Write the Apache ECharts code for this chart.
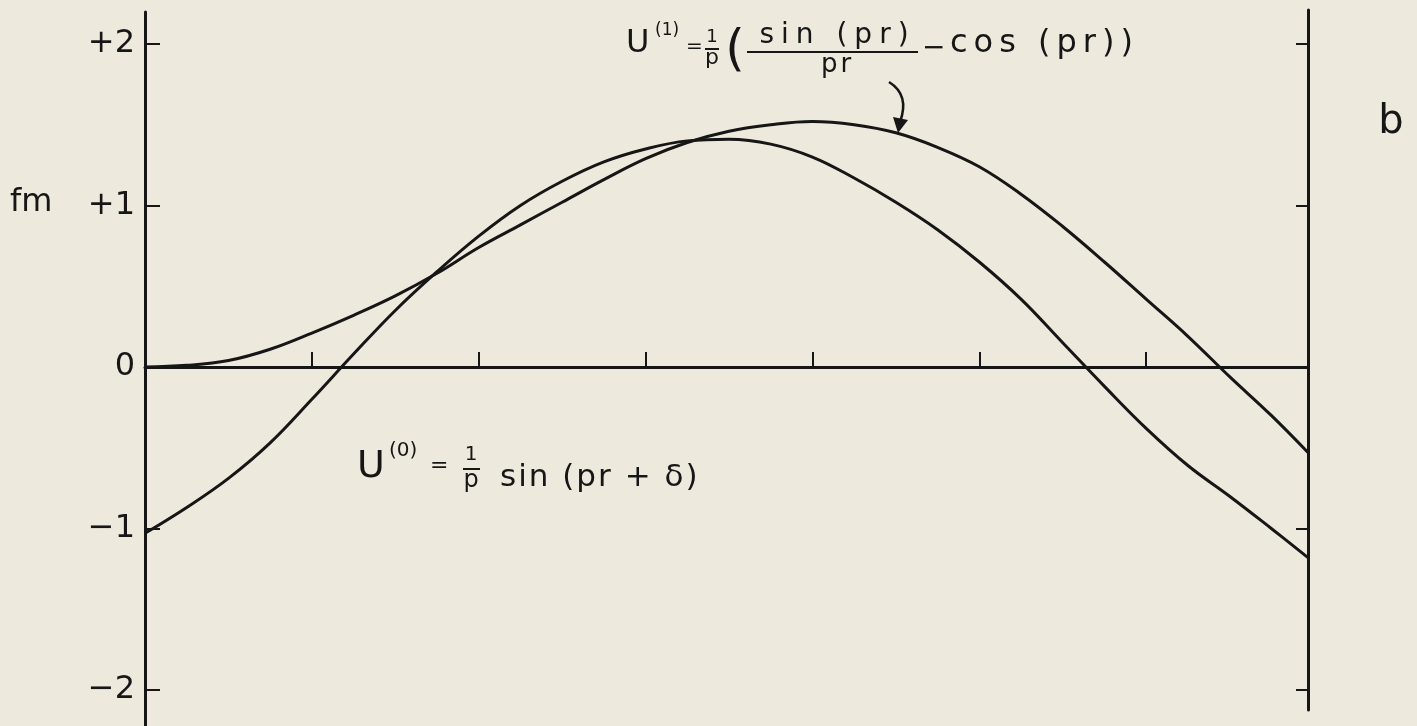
<!DOCTYPE html>
<html>
<head>
<meta charset="utf-8">
<script src="https://cdn.jsdelivr.net/npm/echarts@6/dist/echarts.min.js"></script>
<style>
  html, body { margin: 0; padding: 0; background: #eee9dd; }
  #chart { width: 1417px; height: 726px; }
</style>
</head>
<body>
<div id="chart"></div>
<script>
// Radial coordinate samples (pr units along the horizontal axis)
const rSamples = [0, 0.25, 0.5, 0.75, 1.0, 1.25, 1.5, 1.75, 2.0, 2.25, 2.5, 2.75, 3.0, 3.25, 3.5, 3.75,
                  4.0, 4.25, 4.5, 4.75, 5.0, 5.25, 5.5, 5.75, 6.0, 6.25, 6.5, 6.75, 6.97];
// U(0) = (1/p) sin(pr + δ)
const u0Val = [-1.03, -0.87, -0.69, -0.47, -0.20, 0.08, 0.35, 0.59, 0.81, 1.00, 1.15, 1.27, 1.35, 1.40, 1.41, 1.38,
               1.30, 1.17, 1.02, 0.85, 0.65, 0.42, 0.15, -0.12, -0.38, -0.61, -0.80, -1.00, -1.18];
// U(1) = (1/p)(sin(pr)/pr - cos(pr))
const u1Val = [0, 0.01, 0.04, 0.11, 0.21, 0.32, 0.44, 0.58, 0.74, 0.88, 1.02, 1.16, 1.29, 1.39, 1.46, 1.50,
               1.52, 1.50, 1.45, 1.36, 1.24, 1.07, 0.87, 0.65, 0.42, 0.19, -0.06, -0.30, -0.53];

// Vertical axis ticks and their labels
const yTickValues = [-2, -1, 0, 1, 2];
const yTickLabels = ['−2', '−1', '0', '+1', '+2'];
const sideTickValues = [-2, -1, 1, 2];

const INK = '#161616';
const FONT = 'DejaVu Sans';

const pairs = (xs, ys) => xs.map((x, i) => [x, ys[i]]);

const chart = echarts.init(document.getElementById('chart'), null, { renderer: 'canvas' });

function txt(text, x, y, size, align, vAlign) {
  return {
    type: 'text', x: x, y: y, z: 10,
    style: {
      text: text, fill: INK, fontSize: size, fontFamily: FONT,
      align: align || 'left', verticalAlign: vAlign || 'middle'
    }
  };
}
function seg(x1, y1, x2, y2, w) {
  return {
    type: 'line', z: 10,
    shape: { x1: x1, y1: y1, x2: x2, y2: y2 },
    style: { stroke: INK, lineWidth: w || 2 }
  };
}

// Hand-lettered labels are widely spaced: lay the glyphs out one by one with extra tracking.
const measureCtx = document.createElement('canvas').getContext('2d');
function tracked(str, x, y, size, gap, align) {
  measureCtx.font = size + 'px "' + FONT + '"';
  const chars = Array.from(str);
  const adv = chars.map((c, i) => {
    if (c === ' ') return measureCtx.measureText(' ').width + gap * 2;
    return measureCtx.measureText(c).width + (i < chars.length - 1 && chars[i + 1] !== ' ' ? gap : 0);
  });
  const total = adv.reduce((a, b) => a + b, 0);
  let cx = align === 'center' ? x - total / 2 : x;
  const out = [];
  chars.forEach((c, i) => {
    if (c !== ' ') out.push(txt(c, cx, y, size));
    cx += adv[i];
  });
  return out;
}

chart.setOption({
  animation: false,
  backgroundColor: '#eee9dd',
  grid: [
    { left: 145, right: 109, top: 12, bottom: 0 },
    { left: 145, right: 109, top: 10, bottom: 16 }
  ],
  xAxis: [
    {
      gridIndex: 0, type: 'value', min: 0, max: 6.97, interval: 1,
      axisLine: { show: true, onZero: true, lineStyle: { color: INK, width: 3 } },
      axisTick: { show: true, inside: true, length: 15, lineStyle: { color: INK, width: 2 } },
      axisLabel: { show: false },
      splitLine: { show: false }
    },
    {
      gridIndex: 1, type: 'value', min: 0, max: 6.97, show: false
    }
  ],
  yAxis: [
    {
      gridIndex: 0, type: 'value', position: 'left',
      min: -2.223, max: 2.198,
      axisLine: { show: true, onZero: false, lineStyle: { color: INK, width: 3 } },
      axisTick: { show: true, inside: true, length: 15, customValues: sideTickValues, lineStyle: { color: INK, width: 2 } },
      axisLabel: {
        show: true, customValues: yTickValues, margin: 10,
        color: INK, fontSize: 32, fontFamily: FONT,
        formatter: v => yTickLabels[yTickValues.indexOf(Math.round(v))]
      },
      splitLine: { show: false }
    },
    {
      gridIndex: 1, type: 'value', position: 'right',
      min: -2.1238, max: 2.2105,
      axisLine: { show: true, onZero: false, lineStyle: { color: INK, width: 3 } },
      axisTick: { show: true, inside: true, length: 12, customValues: sideTickValues, lineStyle: { color: INK, width: 2 } },
      axisLabel: { show: false },
      splitLine: { show: false }
    }
  ],
  series: [
    {
      name: 'U(0)', type: 'line', xAxisIndex: 0, yAxisIndex: 0,
      data: pairs(rSamples, u0Val), smooth: 0.4, symbol: 'none',
      lineStyle: { color: INK, width: 3 }, z: 5
    },
    {
      name: 'U(1)', type: 'line', xAxisIndex: 0, yAxisIndex: 0,
      data: pairs(rSamples, u1Val), smooth: 0.4, symbol: 'none',
      lineStyle: { color: INK, width: 3 }, z: 5
    }
  ],
  graphic: [
    // axis name and panel letter
    txt('fm', 10, 203, 32),
    txt('b', 1391, 123, 40, 'center'),

    // U(1) = 1/p ( sin(pr)/pr − cos(pr) )
    txt('U', 626, 44, 32),
    txt('(1)', 655, 31, 17),
    txt('=', 686, 47, 20),
    txt('1', 712, 37, 18, 'center'),
    seg(705, 49, 719, 49, 2),
    txt('p', 712, 58, 22, 'center'),
    txt('(', 735, 52, 50, 'center'),
    ...tracked('sin (pr)', 834, 36, 28, 7, 'center'),
    seg(747, 52, 918, 52, 2),
    ...tracked('pr', 836, 65, 26, 3, 'center'),
    txt('−', 922, 49, 28),
    ...tracked('cos (pr))', 950, 44, 32, 6),

    // pointer from the label to the U(1) curve
    {
      type: 'bezierCurve', z: 10,
      shape: { x1: 889, y1: 82, cpx1: 910, cpy1: 95, x2: 900, y2: 122 },
      style: { stroke: INK, lineWidth: 2.5, fill: null }
    },
    {
      type: 'polygon', z: 10,
      shape: { points: [[893, 117], [908, 120], [898, 133]] },
      style: { fill: INK }
    },

    // U(0) = 1/p sin(pr + δ)
    txt('U', 357, 467, 38),
    txt('(0)', 389, 451, 20),
    txt('=', 430, 466, 22),
    txt('1', 471, 455, 20, 'center'),
    seg(463, 469, 480, 469, 2),
    txt('p', 471, 481, 24, 'center'),
    ...tracked('sin (pr + δ)', 500, 478, 31, 2)
  ]
});
</script>
</body>
</html>
